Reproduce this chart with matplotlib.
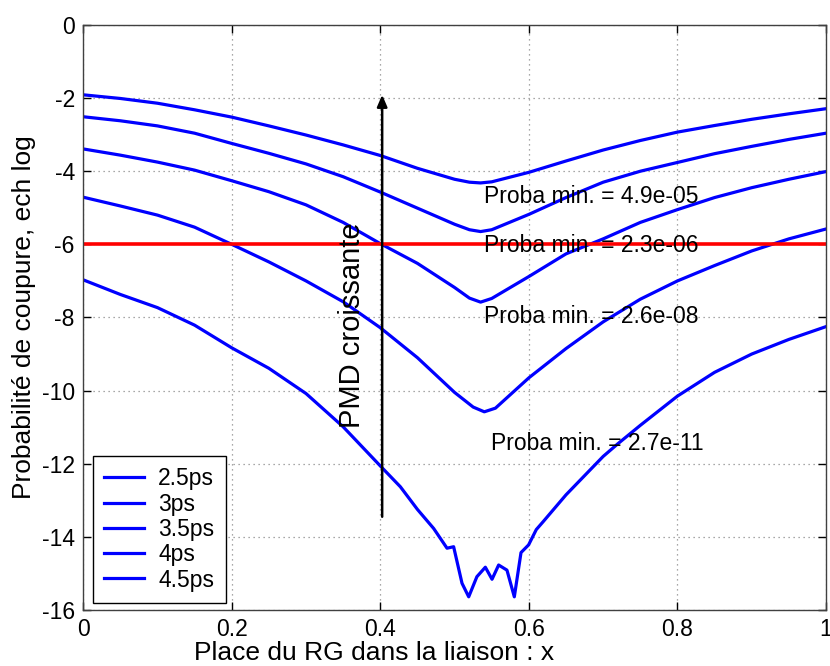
import matplotlib
matplotlib.use("Agg")
import matplotlib.pyplot as plt

plt.rcParams['font.family'] = ['Liberation Sans', 'DejaVu Sans']
plt.rcParams['axes.unicode_minus'] = False

labels = ["2.5ps", "3ps", "3.5ps", "4ps", "4.5ps"]

x1 = [0, 0.05, 0.1, 0.15, 0.2, 0.25, 0.3, 0.35, 0.4, 0.45, 0.5, 0.52, 0.535, 0.55, 0.6, 0.65, 0.7, 0.75, 0.8, 0.85, 0.9, 0.95, 1.0]
y1 = [-1.91, -2.01, -2.14, -2.32, -2.52, -2.76, -3.01, -3.28, -3.57, -3.92, -4.22, -4.30, -4.32, -4.29, -4.03, -3.72, -3.42, -3.16, -2.93, -2.75, -2.58, -2.43, -2.29]

x2 = [0, 0.05, 0.1, 0.15, 0.2, 0.25, 0.3, 0.35, 0.4, 0.45, 0.5, 0.52, 0.535, 0.55, 0.6, 0.65, 0.7, 0.75, 0.8, 0.85, 0.9, 0.95, 1.0]
y2 = [-2.51, -2.62, -2.76, -2.96, -3.24, -3.51, -3.80, -4.15, -4.57, -5.01, -5.45, -5.60, -5.65, -5.60, -5.18, -4.72, -4.30, -4.00, -3.76, -3.52, -3.32, -3.13, -2.96]

x3 = [0, 0.05, 0.1, 0.15, 0.2, 0.25, 0.3, 0.35, 0.4, 0.45, 0.5, 0.52, 0.535, 0.55, 0.6, 0.65, 0.7, 0.75, 0.8, 0.85, 0.9, 0.95, 1.0]
y3 = [-3.39, -3.56, -3.75, -3.97, -4.26, -4.56, -4.92, -5.40, -5.98, -6.52, -7.18, -7.47, -7.58, -7.48, -6.88, -6.26, -5.85, -5.40, -5.05, -4.72, -4.45, -4.22, -4.01]

x4 = [0, 0.05, 0.1, 0.15, 0.2, 0.25, 0.3, 0.35, 0.4, 0.45, 0.5, 0.525, 0.54, 0.555, 0.6, 0.65, 0.7, 0.75, 0.8, 0.85, 0.9, 0.95, 1.0]
y4 = [-4.71, -4.95, -5.20, -5.53, -6.00, -6.48, -7.00, -7.57, -8.28, -9.10, -10.05, -10.45, -10.58, -10.48, -9.65, -8.85, -8.12, -7.50, -7.00, -6.58, -6.18, -5.85, -5.58]

x5 = [0, 0.05, 0.1, 0.15, 0.2, 0.25, 0.3, 0.35, 0.4, 0.427, 0.45, 0.4718, 0.4898, 0.4987, 0.510,
      0.519, 0.530, 0.5414, 0.5504, 0.5593, 0.5705, 0.5804, 0.5894, 0.5996, 0.610, 0.619,
      0.65, 0.7, 0.72, 0.75, 0.8, 0.85, 0.9, 0.95, 1.0]
y5 = [-6.97, -7.37, -7.73, -8.21, -8.83, -9.39, -10.08, -10.99, -12.06, -12.63, -13.25, -13.77, -14.31, -14.27, -15.27,
      -15.64, -15.09, -14.83, -15.16, -14.77, -14.91, -15.64, -14.43, -14.22, -13.80, -13.59,
      -12.85, -11.80, -11.45, -10.95, -10.15, -9.50, -9.00, -8.60, -8.25]

threshold = -6
annot_text = ["Proba min. = 4.9e-05", "Proba min. = 2.3e-06", "Proba min. = 2.6e-08", "Proba min. = 2.7e-11"]
annot_x = [0.539, 0.539, 0.539, 0.549]
annot_y = [-4.70, -6.02, -7.98, -11.44]

fig = plt.figure(figsize=(8.3, 6.66), dpi=100)
ax = fig.add_axes([0.1002, 0.0841, 0.8950, 0.8784])

blue = (0, 0, 1)
for xs, ys, lab in zip([x1, x2, x3, x4, x5], [y1, y2, y3, y4, y5], labels):
    ax.plot(xs, ys, color=blue, lw=2.3, label=lab)

ax.axhline(threshold, color=(1, 0, 0), lw=2.6)

ax.annotate("", xy=(0.4025, -1.91), xytext=(0.4025, -13.45),
            arrowprops=dict(arrowstyle="-|>,head_length=0.7,head_width=0.3", color="black", lw=1.8,
                            shrinkA=0, shrinkB=0))
ax.text(0.362, -8.2, "PMD croissante", rotation=90, ha="center", va="center", fontsize=21)

for t, xa, ya in zip(annot_text, annot_x, annot_y):
    ax.text(xa, ya, t, ha="left", va="center", fontsize=16.5)

ax.set_xlim(0, 1)
ax.set_ylim(-16, 0)
ax.set_xticks([0, 0.2, 0.4, 0.6, 0.8, 1])
ax.set_xticklabels(["0", "0.2", "0.4", "0.6", "0.8", "1"])
ax.set_yticks(range(-16, 1, 2))
ax.tick_params(direction="in", top=True, right=True, labelsize=16.5, length=6, width=1, pad=6)
ax.grid(True, linestyle=(0, (1, 3)), color="0.55", lw=0.9)
for s in ax.spines.values():
    s.set_color("0.25")
    s.set_linewidth(1)

ax.set_xlabel("Place du RG dans la liaison : x", fontsize=19, labelpad=0, x=0.392)
ax.set_ylabel("Probabilité de coupure, ech log", fontsize=19, labelpad=4)

leg = ax.legend(loc="lower left", bbox_to_anchor=(0.013, 0.012), borderaxespad=0,
                fontsize=16.5, fancybox=False, framealpha=1, edgecolor="black",
                handlelength=1.75, labelspacing=0.1, handletextpad=0.6, borderpad=0.5)
leg.get_frame().set_linewidth(1)

fig.savefig("out.png", dpi=100)
